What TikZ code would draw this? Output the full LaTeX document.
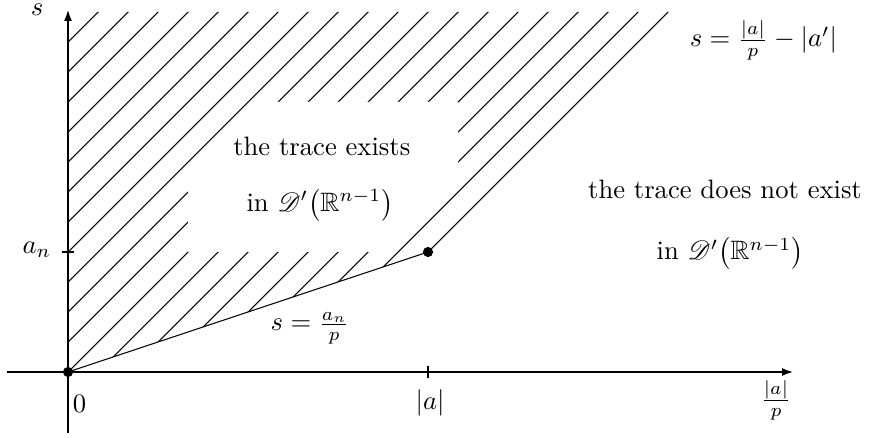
\documentclass[tikz,border=0pt]{standalone}
\usepackage{amsmath}
\usepackage{amssymb}
\usepackage{mathrsfs}
\usetikzlibrary{arrows.meta}
\newcommand{\distr}{\mathscr{D}'\bigl(\mathbb{R}^{n-1}\bigr)}

\begin{document}
\begin{tikzpicture}[x=0.3964cm,y=0.3964cm,
    axis/.style={line width=1.1pt,-{Latex[length=4.5pt,width=3pt]}},
    hatchline/.style={line width=0.4pt}]
  \useasboundingbox (-2.267,-2.167) rectangle (26.7,12.4);

  \coordinate (O) at (0,0);
  \coordinate (P) at (12,4);
  \coordinate (T) at (20,12);
  \coordinate (C) at (0,12);

  % hatched region
  \begin{scope}
    \clip (O) -- (P) -- (T) -- (C) -- cycle;
    \foreach \k in {-7,...,11}
      \draw[hatchline] (-8,\k-8) -- (21,21+\k);
  \end{scope}
  \fill[white] (4,4) -- (10.9,4) -- (13,6.1) -- (13,9) -- (6.1,9) -- (4,6.9) -- cycle;

  \draw (O) -- (P) -- (T);

  % axes
  \coordinate (xl) at (-2.03,0);
  \coordinate (xr) at (24.2,0);
  \coordinate (yb) at (0,-2.03);
  \coordinate (yt) at (0,12.1);
  \draw[axis] (xl) -- (xr);
  \draw[axis] (yb) -- (yt);
  \draw (12,-0.2) -- (12,0.2);
  \draw (-0.2,4) -- (0.2,4);

  \fill (O) circle (0.17);
  \fill (P) circle (0.17);

  \node (s) at (-1.03,12.07) {$s$};
  \node (an) at (-1.04,4.07) {$a_n$};
  \node (zero) at (0.38,-1.07) {$0$};
  \node (abs) at (12.07,-1.03) {$|a|$};
  \node (absp) at (23.6,-0.93) {$\frac{|a|}{p}$};
  \node (low) at (8.07,1.47) {$s=\frac{a_n}{p}$};
  \node (up) at (23.18,11.07) {$s=\frac{|a|}{p}-|a'|$};
  \node (ex1) at (8.46,7.52) {the trace exists};
  \node (ex2) at (8.4,5.57) {in $\distr$};
  \node (nex1) at (21.9,6.07) {the trace does not exist};
  \node (nex2) at (22.07,3.96) {in $\distr$};
\end{tikzpicture}
\end{document}
